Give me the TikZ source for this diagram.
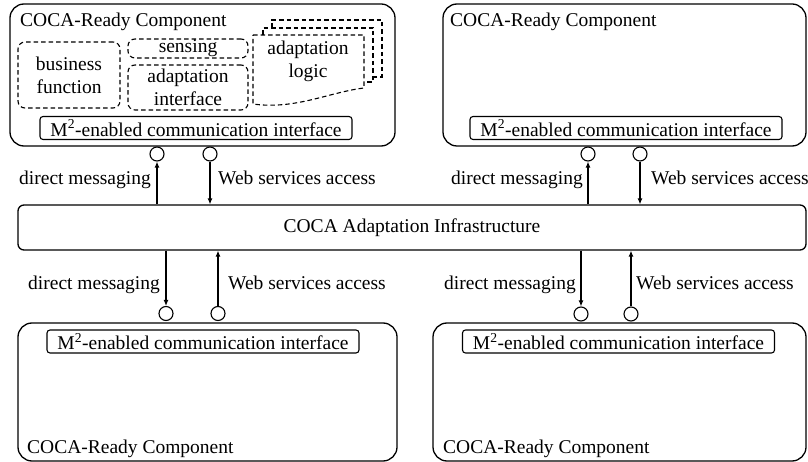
\documentclass[tikz,border=0pt]{standalone}
\usepackage{fontspec}
\setmainfont{Liberation Serif}
\usetikzlibrary{arrows.meta}

\begin{document}
\begin{tikzpicture}[x=1pt,y=-1pt,
  every node/.style={font=\fontsize{19.5}{23}\selectfont},
  comp/.style={draw, line width=1.3pt, rounded corners=14pt, inner sep=0pt},
  iface/.style={draw, line width=1.1pt, rounded corners=3pt, inner sep=0pt,
                minimum width=312pt, minimum height=23pt},
  part/.style={draw, line width=1.1pt, dash pattern=on 4.5pt off 3pt,
               rounded corners=7pt, inner sep=0pt, align=center},
  port/.style={draw, circle, line width=1.1pt, minimum size=14pt, inner sep=0pt},
  flow/.style={line width=1.1pt, -{Latex[length=6pt,width=5pt]}},
  tag/.style={inner sep=0pt}
]
\useasboundingbox (0,0) rectangle (808,462);

% ---------- adaptation infrastructure ----------
\node[comp, rounded corners=6pt, minimum width=788pt, minimum height=45pt]
  (infra) at (412,227.5) {COCA Adaptation Infrastructure};

% ---------- top-left component (detailed) ----------
\node[comp, minimum width=385pt, minimum height=142pt] (tl) at (202.5,75) {};
\node[tag, anchor=base west] (tlname) at (20,27) {COCA-Ready Component};
\node[iface] (tlif) at (196,128) {M\textsuperscript{2}-enabled communication interface};
\node[part, minimum width=102pt, minimum height=66pt] (bf) at (69,75)
  {business\\function};
\node[part, minimum width=120pt, minimum height=19pt] (sens) at (188,48.5) {sensing};
\node[part, minimum width=120pt, minimum height=45pt] (ai) at (188,87.5)
  {adaptation\\interface};
% stacked documents holding the adaptation logic
\begin{scope}[line width=1.1pt, dash pattern=on 4.5pt off 3pt]
  \draw (272,28) -- (272,20) -- (382,20) -- (382,77) -- (373,77);
  \draw (263,35) -- (263,28) -- (373,28) -- (373,82) -- (364,82);
  \draw (253,35) -- (364,35) -- (364,88)
        .. controls (330,92) and (295,110) .. (253,104) -- cycle;
\end{scope}
\node[tag, align=center] (al) at (308,61) {adaptation\\logic};

% ---------- top-right component ----------
\node[comp, minimum width=363pt, minimum height=142pt] (tr) at (624.5,75) {};
\node[tag, anchor=base west] (trname) at (450,27) {COCA-Ready Component};
\node[iface] (trif) at (626,128) {M\textsuperscript{2}-enabled communication interface};

% ---------- bottom-left component ----------
\node[comp, minimum width=379pt, minimum height=138pt] (bl) at (207.5,392) {};
\node[tag, anchor=base west] (blname) at (27,453) {COCA-Ready Component};
\node[iface] (blif) at (203,341.5) {M\textsuperscript{2}-enabled communication interface};

% ---------- bottom-right component ----------
\node[comp, minimum width=373pt, minimum height=138pt] (br) at (619.5,392) {};
\node[tag, anchor=base west] (brname) at (443,453) {COCA-Ready Component};
\node[iface] (brif) at (618.5,341.5) {M\textsuperscript{2}-enabled communication interface};

% ---------- ports ----------
\node[port] (tldm) at (157,154) {};
\node[port] (tlws) at (210,154) {};
\node[port] (trdm) at (588,154) {};
\node[port] (trws) at (640,154) {};
\node[port] (bldm) at (166,313.5) {};
\node[port] (blws) at (218,313.5) {};
\node[port] (brdm) at (581,314) {};
\node[port] (brws) at (631,314) {};

% ---------- connectors ----------
\draw[flow] (tldm |- infra.north) -- (tldm.south);
\draw[flow] (tlws.south) -- (tlws |- infra.north);
\draw[flow] (trdm |- infra.north) -- (trdm.south);
\draw[flow] (trws.south) -- (trws |- infra.north);
\draw[flow] (bldm |- infra.south) -- (bldm.north);
\draw[flow] (blws.north) -- (blws |- infra.south);
\draw[flow] (brdm |- infra.south) -- (brdm.north);
\draw[flow] (brws.north) -- (brws |- infra.south);

% ---------- connector labels ----------
\node[tag, anchor=base east] (l1) at (151,185) {direct messaging};
\node[tag, anchor=base west] (l2) at (218,185) {Web services access};
\node[tag, anchor=base east] (l3) at (583,185) {direct messaging};
\node[tag, anchor=base west] (l4) at (651,185) {Web services access};
\node[tag, anchor=base east] (l5) at (160,289) {direct messaging};
\node[tag, anchor=base west] (l6) at (228,289) {Web services access};
\node[tag, anchor=base east] (l7) at (576,289) {direct messaging};
\node[tag, anchor=base west] (l8) at (636,289) {Web services access};
\end{tikzpicture}
\end{document}
